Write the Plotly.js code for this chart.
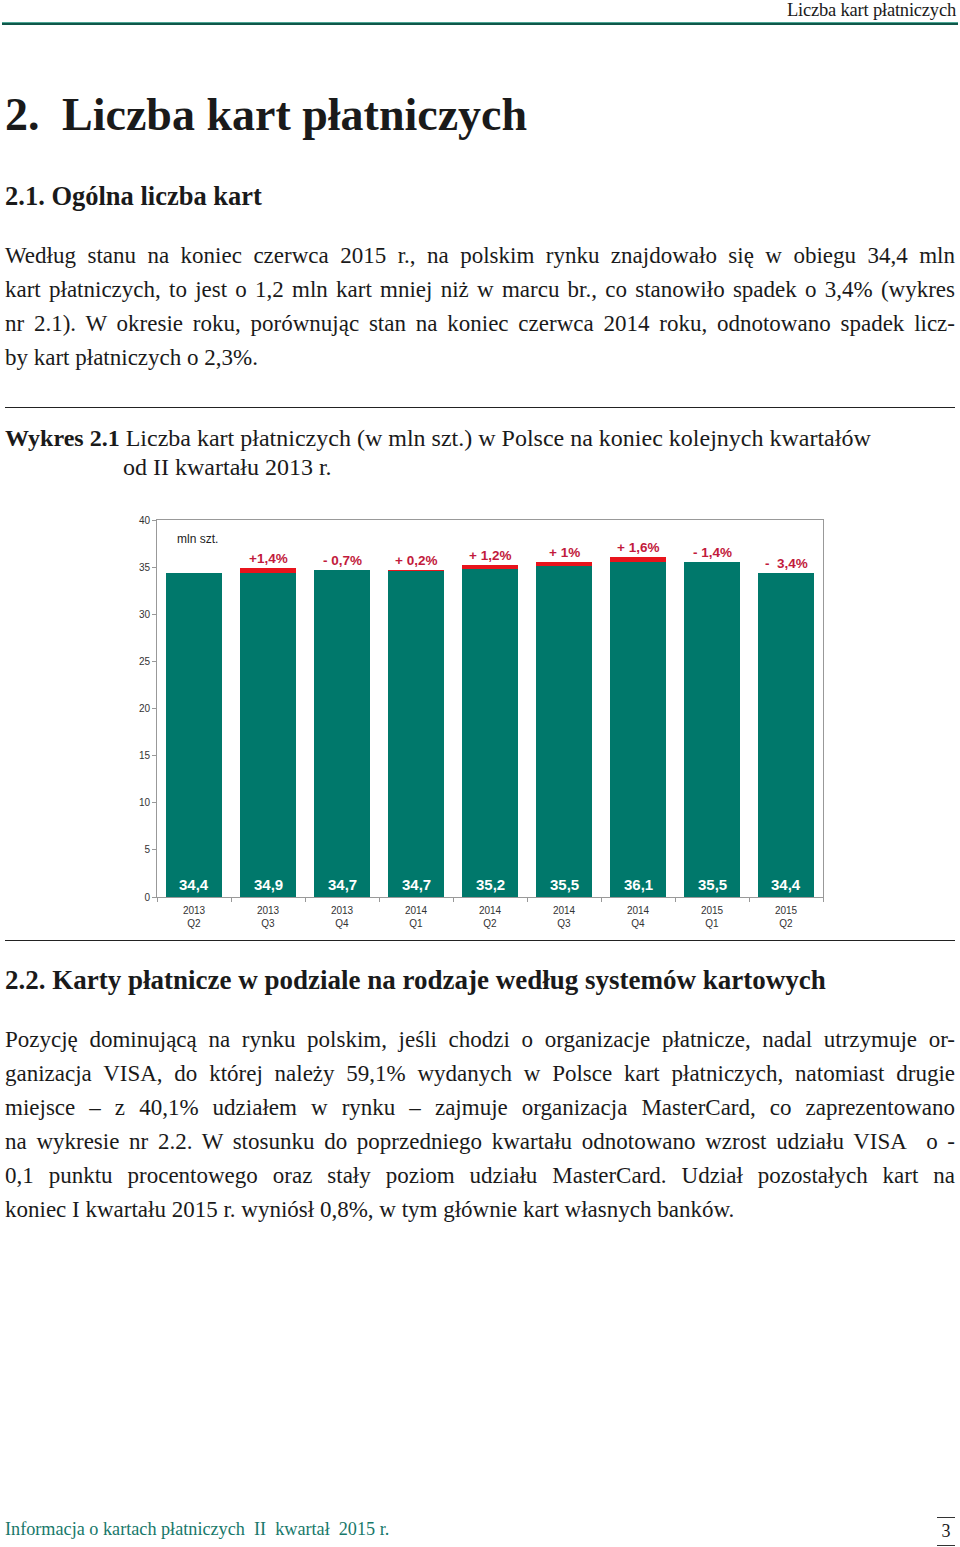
<!DOCTYPE html>
<html>
<head>
<meta charset="utf-8">
<script src="https://cdn.plot.ly/plotly-3.0.1.min.js"></script>
<style>
html,body{margin:0;padding:0;background:#fff;}
body{width:960px;height:1547px;position:relative;overflow:hidden;font-family:"Liberation Serif","DejaVu Serif",serif;color:#1a1a1a;}
.abs{position:absolute;}
.tl{position:absolute;left:5px;width:950px;white-space:nowrap;font-size:23px;line-height:34px;}
.rule{position:absolute;left:5px;width:950px;height:0;border-top:1.5px solid #222;}
</style>
</head>
<body>
<!-- header -->
<div class="abs" style="right:4px;top:0px;font-size:18.5px;line-height:20px;letter-spacing:-0.2px;">Liczba kart płatniczych</div>
<div class="abs" style="left:2px;top:22px;width:956px;height:1px;background:#4da595;"></div>
<div class="abs" style="left:2px;top:23px;width:956px;height:2px;background:#10584a;"></div>

<div class="abs" style="left:5px;top:88px;font-size:46px;line-height:54px;font-weight:bold;">2.</div>
<div class="abs" style="left:62px;top:88px;font-size:46px;line-height:54px;font-weight:bold;">Liczba kart płatniczych</div>
<div class="abs" style="left:5px;top:180px;font-size:26.5px;line-height:32px;font-weight:bold;">2.1. Ogólna liczba kart</div>

<div class="tl just" style="top:239px;">Według stanu na koniec czerwca 2015 r., na polskim rynku znajdowało się w obiegu 34,4 mln</div>
<div class="tl just" style="top:273px;">kart płatniczych, to jest o 1,2 mln kart mniej niż w marcu br., co stanowiło spadek o 3,4% (wykres</div>
<div class="tl just" style="top:307px;">nr 2.1). W okresie roku, porównując stan na koniec czerwca 2014 roku, odnotowano spadek licz-</div>
<div class="tl" style="top:341px;">by kart płatniczych o 2,3%.</div>

<div class="rule" style="top:407px;"></div>
<div class="abs" style="left:5px;top:423px;font-size:24px;line-height:30px;white-space:nowrap;"><b>Wykres 2.1</b> Liczba kart płatniczych (w mln szt.) w Polsce na koniec kolejnych kwartałów</div>
<div class="abs" style="left:123px;top:452px;font-size:24px;line-height:30px;white-space:nowrap;">od II kwartału 2013 r.</div>

<div id="chart" class="abs" style="left:100px;top:500px;width:740px;height:440px;"></div>

<div class="rule" style="top:940px;"></div>
<div class="abs" style="left:5px;top:964px;font-size:27px;line-height:32px;font-weight:bold;white-space:nowrap;">2.2. Karty płatnicze w podziale na rodzaje według systemów kartowych</div>

<div class="tl just" style="top:1023px;">Pozycję dominującą na rynku polskim, jeśli chodzi o organizacje płatnicze, nadal utrzymuje or-</div>
<div class="tl just" style="top:1057px;">ganizacja VISA, do której należy 59,1% wydanych w Polsce kart płatniczych, natomiast drugie</div>
<div class="tl just" style="top:1091px;">miejsce – z 40,1% udziałem w rynku – zajmuje organizacja MasterCard, co zaprezentowano</div>
<div class="tl just" style="top:1125px;">na wykresie nr 2.2. W stosunku do poprzedniego kwartału odnotowano wzrost udziału VISA&nbsp; o -</div>
<div class="tl just" style="top:1159px;">0,1 punktu procentowego oraz stały poziom udziału MasterCard. Udział pozostałych kart na</div>
<div class="tl" style="top:1193px;">koniec I kwartału 2015 r. wyniósł 0,8%, w tym głównie kart własnych banków.</div>

<!-- footer -->
<div class="abs" style="left:5px;top:1518px;font-size:18.2px;line-height:22px;color:#17786a;white-space:nowrap;">Informacja o kartach płatniczych&nbsp; II&nbsp; kwartał&nbsp; 2015 r.</div>
<div class="abs" style="left:937px;top:1517px;width:18px;height:1px;background:#333;"></div>
<div class="abs" style="left:937px;top:1520px;width:18px;text-align:center;font-size:18px;line-height:22px;">3</div>
<div class="abs" style="left:937px;top:1545px;width:18px;height:1px;background:#333;"></div>

<script>
// ---- data ----
const quarters = ['2013<br>Q2','2013<br>Q3','2013<br>Q4','2014<br>Q1','2014<br>Q2','2014<br>Q3','2014<br>Q4','2015<br>Q1','2015<br>Q2'];
const values = [34.4, 34.9, 34.7, 34.7, 35.2, 35.5, 36.1, 35.5, 34.4];
const changes = [null, 1.4, -0.7, 0.2, 1.2, 1, 1.6, -1.4, -3.4];
const changeLabels = ['', '+1,4%', '- 0,7%', '+ 0,2%', '+ 1,2%', '+ 1%', '+ 1,6%', '- 1,4%', '-  3,4%'];
const unitLabel = 'mln szt.';

// justify lines by word spacing
document.querySelectorAll('.just').forEach(el => {
  const txt = el.textContent;
  const spaces = (txt.match(/[ \u00a0]/g) || []).length;
  const r = document.createRange(); r.selectNodeContents(el);
  const tw = r.getBoundingClientRect().width;
  if (spaces > 0) el.style.wordSpacing = ((950 - tw) / spaces) + 'px';
});

const increase = values.map((v, i) => (changes[i] && changes[i] > 0) ? v * changes[i] / (100 + changes[i]) : 0);
const base = values.map((v, i) => v - increase[i]);

const teal = '#00786b';
const traces = [
  {type:'bar', x:quarters, y:base, marker:{color:teal}, hoverinfo:'skip'},
  {type:'bar', x:quarters, y:increase, marker:{color:'#e8141c'}, hoverinfo:'skip'}
];

const annotations = [];
values.forEach((v, i) => {
  annotations.push({x:quarters[i], y:0, xref:'x', yref:'y', text:'<b>' + v.toFixed(1).replace('.', ',') + '</b>',
    showarrow:false, yanchor:'middle', yshift:13, font:{family:'Liberation Sans, Arial, sans-serif', size:15, color:'#ffffff'}});
  if (changeLabels[i]) {
    annotations.push({x:quarters[i], y:v, xref:'x', yref:'y', text:'<b>' + changeLabels[i] + '</b>',
      showarrow:false, yanchor:'middle', yshift:9.5, font:{family:'Liberation Sans, Arial, sans-serif', size:13.5, color:'#c21a3c'}});
  }
});
annotations.push({xref:'paper', yref:'paper', x:0.027, y:0.95, xanchor:'left', yanchor:'middle', text:unitLabel, showarrow:false,
  font:{family:'Liberation Sans, Arial, sans-serif', size:12, color:'#222'}});

const layout = {
  width:740, height:440,
  margin:{l:57, r:17, t:20, b:43},
  barmode:'stack', bargap:0.23, showlegend:false,
  paper_bgcolor:'#fff', plot_bgcolor:'#fff',
  font:{family:'Liberation Sans, Arial, sans-serif', size:10, color:'#333'},
  xaxis:{type:'category', showline:true, linecolor:'#999', linewidth:1, mirror:true, ticks:'outside', tickson:'boundaries', ticklen:4, tickcolor:'#999',
    ticklabelstandoff:4, tickfont:{size:10, color:'#333'}, showgrid:false, zeroline:false},
  yaxis:{range:[0,40], dtick:5, showline:true, linecolor:'#999', linewidth:1, mirror:true, ticks:'outside', ticklen:4, tickcolor:'#999',
    tickfont:{size:10, color:'#333'}, showgrid:false, zeroline:false},
  annotations:annotations
};
Plotly.newPlot('chart', traces, layout, {staticPlot:true, displayModeBar:false});
</script>
</body>
</html>
